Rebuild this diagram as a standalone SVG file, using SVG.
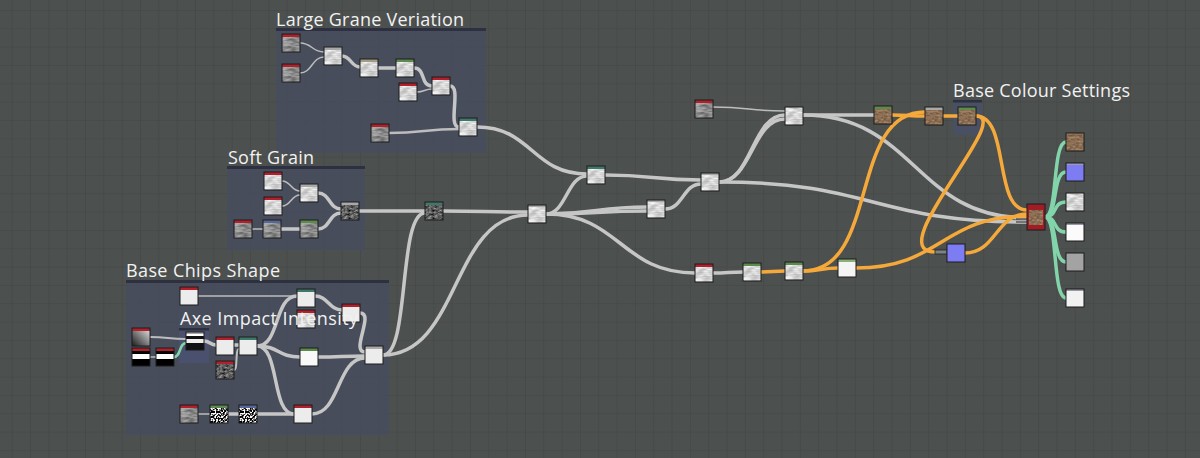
<svg xmlns="http://www.w3.org/2000/svg" width="1200" height="458" viewBox="0 0 1200 458">
<defs>
<pattern id="grid" x="11.7" y="10" width="18.33" height="18.33" patternUnits="userSpaceOnUse">
<rect width="18.33" height="18.33" fill="#4c504f"/>
<path d="M0 0H18.33M0 0V18.33" stroke="#434645" stroke-width="1.2" fill="none"/>
</pattern>
<filter id="nzL" x="0" y="0" width="1" height="1" color-interpolation-filters="sRGB"><feTurbulence type="fractalNoise" baseFrequency="0.12 0.4" numOctaves="2" seed="3"/><feColorMatrix type="matrix" values="0.45 0 0 0 0.6 0.45 0 0 0 0.6 0.45 0 0 0 0.6 0 0 0 0 1"/></filter>
<filter id="nzM" x="0" y="0" width="1" height="1" color-interpolation-filters="sRGB"><feTurbulence type="fractalNoise" baseFrequency="0.12 0.4" numOctaves="2" seed="7"/><feColorMatrix type="matrix" values="0.6 0 0 0 0.25 0.6 0 0 0 0.25 0.6 0 0 0 0.25 0 0 0 0 1"/></filter>
<filter id="nzD" x="0" y="0" width="1" height="1" color-interpolation-filters="sRGB"><feTurbulence type="fractalNoise" baseFrequency="0.3 0.5" numOctaves="2" seed="11"/><feColorMatrix type="matrix" values="0.9 0 0 0 -0.08 0.9 0 0 0 -0.08 0.9 0 0 0 -0.08 0 0 0 0 1"/></filter>
<filter id="nzB" x="0" y="0" width="1" height="1" color-interpolation-filters="sRGB"><feTurbulence type="fractalNoise" baseFrequency="0.3 0.5" numOctaves="2" seed="5"/><feColorMatrix type="matrix" values="0.4 0 0 0 0.35 0.35 0 0 0 0.26 0.3 0 0 0 0.18 0 0 0 0 1"/></filter>
<filter id="nzP" x="0" y="0" width="1" height="1" color-interpolation-filters="sRGB"><feTurbulence type="fractalNoise" baseFrequency="0.6" numOctaves="1" seed="9"/><feColorMatrix type="matrix" values="6 0 0 0 -2.6 6 0 0 0 -2.6 6 0 0 0 -2.6 0 0 0 0 1"/></filter>
<linearGradient id="grad" x1="0" y1="1" x2="1" y2="0"><stop offset="0" stop-color="#1a1a1a"/><stop offset="1" stop-color="#e8e8e8"/></linearGradient>
<linearGradient id="band" x1="0" y1="0" x2="0" y2="1"><stop offset="0" stop-color="#000"/><stop offset="0.35" stop-color="#000"/><stop offset="0.36" stop-color="#fff"/><stop offset="0.62" stop-color="#fff"/><stop offset="0.63" stop-color="#000"/><stop offset="1" stop-color="#000"/></linearGradient>
<linearGradient id="stripes" x1="0" y1="0" x2="0" y2="1"><stop offset="0" stop-color="#fff"/><stop offset="0.2" stop-color="#fff"/><stop offset="0.21" stop-color="#111"/><stop offset="0.4" stop-color="#111"/><stop offset="0.41" stop-color="#eee"/><stop offset="0.6" stop-color="#eee"/><stop offset="0.61" stop-color="#111"/><stop offset="1" stop-color="#111"/></linearGradient>
</defs>
<style>
.frame{fill:#474c5c;fill-opacity:0.9}
.fbar{fill:#2c3040}
.title{font-family:"Open Sans","Noto Sans","Liberation Sans",sans-serif;font-size:18px;fill:#f2f2f2}
.bd{fill:none;stroke:#1c1c1c;stroke-width:1}
.w{fill:#ececec}
.e{fill:none;stroke:#c6c6c6;stroke-width:3.5;stroke-linecap:round}
.t{fill:none;stroke:#bdbdbd;stroke-width:1.5}
.o{fill:none;stroke:#f6a93b;stroke-width:3.5;stroke-linecap:round}
.g{fill:none;stroke:#82d4ab;stroke-width:3.5;stroke-linecap:round}
.hr{fill:#b3202b}.hg{fill:#5d8a4d}.ht{fill:#3e786a}.hy{fill:#a9a9a9}.hb{fill:#56679a}.hk{fill:#a39c84}
</style>
<rect width="1200" height="458" fill="url(#grid)"/>

<g id="frames">
<rect class="frame" x="276" y="28" width="210" height="125"/>
<rect class="fbar" x="276" y="28" width="210" height="3"/>
<text class="title" x="276" y="26" textLength="188">Large Grane Veriation</text>
<rect class="frame" x="227" y="166" width="138" height="84"/>
<rect class="fbar" x="227" y="166" width="138" height="3"/>
<text class="title" x="228" y="164" textLength="86">Soft Grain</text>
<rect class="frame" x="126" y="280" width="263" height="155"/>
<rect class="fbar" x="126" y="280" width="263" height="3"/>
<text class="title" x="126" y="277" textLength="154">Base Chips Shape</text>
<rect class="frame" x="179" y="328" width="30" height="35" style="fill:#4a5270"/>
<rect class="fbar" x="179" y="328" width="30" height="2.5"/>
<rect class="frame" x="953" y="100" width="29" height="35" style="fill:#4a5066"/>
<rect class="fbar" x="953" y="100" width="29" height="2.5"/>
</g>

<g id="connectors">
<path class="t" d="M300 43C312 43 312 52 324 52"/>
<path class="t" d="M300 73C312 73 312 57 324 57"/>
<path class="e" d="M342 56C351 56 351 67 360 67"/>
<path class="e" d="M378 68H396"/>
<path class="e" d="M414 68C426 68 420 86 432 86"/>
<path class="t" d="M417 92C424 92 425 89 432 89"/>
<path class="e" d="M450 86C462 86 447 127 459 127"/>
<path class="t" d="M389 133C424 133 424 129 459 129" style="stroke-width:2.5"/>
<path class="e" d="M477 127C532 127 532 174 587 174"/>
<path class="t" d="M282 181C291 181 291 191 300 191"/>
<path class="t" d="M282 206C291 206 291 195 300 195"/>
<path class="t" d="M252 229H263"/>
<path class="e" d="M281 229H300"/>
<path class="e" d="M318 193C330 193 329 209 341 209"/>
<path class="e" d="M318 229C330 229 329 213 341 213"/>
<path class="e" d="M359 211H425"/>
<path class="e" d="M443 211C485 211 485 212 528 212"/>
<path class="t" d="M198 296H297"/>
<path class="e" d="M315 296C328 296 329 310 342 310"/>
<path class="e" d="M360 313C375 313 350 352 365 352"/>
<path class="t" d="M150 337C168 337 168 339 186 339" style="stroke-width:2"/>
<path class="t" d="M150 357H156"/>
<path class="g" d="M174 357C181 357 179 343 186 343" style="stroke-width:2.5"/>
<path class="e" d="M204 341C210 341 210 345 216 345"/>
<path class="e" d="M234 345H239"/>
<path class="t" d="M234 370C238 370 235 349 239 349" style="stroke-width:2"/>
<path class="e" d="M257 346C280 346 274 296 297 296"/>
<path class="e" d="M257 346C280 346 277 357 300 357"/>
<path class="e" d="M257 346C280 346 271 414 294 414"/>
<path class="e" d="M318 357C341 357 342 356 365 356"/>
<path class="t" d="M198 414H210"/>
<path class="e" d="M228 414H239"/>
<path class="e" d="M257 414H294"/>
<path class="e" d="M312 414C340 414 337 358 365 358"/>
<path class="e" d="M383 355C410 355 398 213 425 213"/>
<path class="e" d="M383 355C460 355 451 215 528 215"/>
<path class="e" d="M546 214C566 214 567 176 587 176"/>
<path class="e" d="M605 175C653 175 653 180 701 180"/>
<path class="e" d="M546 214C596 214 597 207 647 207"/>
<path class="e" d="M546 214C596 214 597 211 647 211"/>
<path class="e" d="M665 209C683 209 683 184 701 184"/>
<path class="e" d="M546 214C620 214 621 273 695 273"/>
<path class="e" d="M719 182C752 182 752 115 785 115"/>
<path class="e" d="M719 182C752 182 752 119 785 119"/>
<path class="e" d="M719 182C873 182 873 222 1027 222"/>
<path class="t" d="M713 107C749 107 749 111 785 111"/>
<path class="e" d="M803 115H874"/>
<path class="e" d="M803 115C915 115 915 218 1027 218"/>
<path class="e" d="M713 273C728 273 728 272 743 272"/>
<path class="o" d="M761 272C773 272 773 271 785 271"/>
<path class="o" d="M803 271C820 271 821 268 838 268"/>
<path class="o" d="M803 271C880 271 848 112 925 112"/>
<path class="o" d="M892 115C908 115 909 116 925 116"/>
<path class="o" d="M943 116H958"/>
<path class="o" d="M976 116C1010 116 993 210 1027 210"/>
<path class="o" d="M976 116C1015 116 880 252 935 252"/>
<path class="o" d="M965 253C996 253 996 214 1027 214"/>
<path class="o" d="M856 268C942 268 941 216 1027 216"/>
<rect x="935" y="250" width="12" height="4" fill="#7d8284" stroke="#222" stroke-width="0.8"/>
<path d="M1016 219H1027M1016 222H1027" stroke="#222" stroke-width="1.2"/>
<path class="g" d="M1045 217C1058 217 1052 142 1066 142"/>
<path class="g" d="M1045 217C1058 217 1052 172 1066 172"/>
<path class="g" d="M1045 217C1058 217 1052 202 1066 202"/>
<path class="g" d="M1045 217C1058 217 1052 232 1066 232"/>
<path class="g" d="M1045 217C1058 217 1052 262 1066 262"/>
<path class="g" d="M1045 217C1058 217 1052 298 1066 298"/>
</g>

<g id="L1" transform="translate(282 34)"><rect width="18" height="18" filter="url(#nzM)"/><rect class="hr" width="18" height="3"/><rect class="bd" width="18" height="18"/></g>
<g id="L2" transform="translate(282 64)"><rect width="18" height="18" filter="url(#nzM)"/><rect class="hr" width="18" height="3"/><rect class="bd" width="18" height="18"/></g>
<g id="L3" transform="translate(324 47)"><rect width="18" height="18" filter="url(#nzL)"/><rect class="hy" width="18" height="3"/><rect class="bd" width="18" height="18"/></g>
<g id="L4" transform="translate(360 59)"><rect width="18" height="18" filter="url(#nzL)"/><rect class="hk" width="18" height="3"/><rect class="bd" width="18" height="18"/></g>
<g id="L5" transform="translate(396 59)"><rect width="18" height="18" filter="url(#nzL)"/><rect class="hg" width="18" height="3"/><rect class="bd" width="18" height="18"/></g>
<g id="L6" transform="translate(432 77)"><rect width="18" height="18" filter="url(#nzL)"/><rect class="hr" width="18" height="3"/><rect class="bd" width="18" height="18"/></g>
<g id="L7" transform="translate(399 83)"><rect width="18" height="18" filter="url(#nzL)"/><rect class="hr" width="18" height="3"/><rect class="bd" width="18" height="18"/></g>
<g id="L8" transform="translate(459 118)"><rect width="18" height="18" filter="url(#nzL)"/><rect class="ht" width="18" height="3"/><rect class="bd" width="18" height="18"/></g>
<g id="L9" transform="translate(371 124)"><rect width="18" height="18" filter="url(#nzM)"/><rect class="hr" width="18" height="3"/><rect class="bd" width="18" height="18"/></g>

<g id="S1" transform="translate(264 172)"><rect width="18" height="18" filter="url(#nzL)"/><rect class="hr" width="18" height="3"/><rect class="bd" width="18" height="18"/></g>
<g id="S2" transform="translate(264 197)"><rect width="18" height="18" filter="url(#nzL)"/><rect class="hr" width="18" height="3"/><rect class="bd" width="18" height="18"/></g>
<g id="S3" transform="translate(234 220)"><rect width="18" height="18" filter="url(#nzM)"/><rect class="hr" width="18" height="3"/><rect class="bd" width="18" height="18"/></g>
<g id="S4" transform="translate(263 220)"><rect width="18" height="18" filter="url(#nzM)"/><rect class="hb" width="18" height="3"/><rect class="bd" width="18" height="18"/></g>
<g id="S5" transform="translate(300 184)"><rect width="18" height="18" filter="url(#nzL)"/><rect class="hy" width="18" height="3"/><rect class="bd" width="18" height="18"/></g>
<g id="S6" transform="translate(300 220)"><rect width="18" height="18" filter="url(#nzM)"/><rect class="hg" width="18" height="3"/><rect class="bd" width="18" height="18"/></g>
<g id="S7" transform="translate(341 202)"><rect width="18" height="18" filter="url(#nzD)"/><rect class="hy" width="18" height="3"/><rect class="bd" width="18" height="18"/></g>
<g id="S8" transform="translate(425 202)"><rect width="18" height="18" filter="url(#nzD)"/><rect class="ht" width="18" height="3"/><rect class="bd" width="18" height="18"/></g>

<g id="B1" transform="translate(180 287)"><rect class="w" width="18" height="18"/><rect class="hr" width="18" height="3"/><rect class="bd" width="18" height="18"/></g>
<g id="B2" transform="translate(297 289)"><rect class="w" width="18" height="18"/><rect class="ht" width="18" height="3"/><rect class="bd" width="18" height="18"/></g>
<g id="B3" transform="translate(297 310)"><rect width="18" height="18" filter="url(#nzL)"/><rect class="hr" width="18" height="3"/><rect class="bd" width="18" height="18"/></g>
<g id="B4" transform="translate(342 304)"><rect class="w" width="18" height="18"/><rect class="hr" width="18" height="3"/><rect class="bd" width="18" height="18"/></g>
<g id="B5" transform="translate(132 328)"><rect width="18" height="18" fill="url(#grad)"/><rect class="hr" width="18" height="3"/><rect class="bd" width="18" height="18"/></g>
<g id="B6" transform="translate(132 348)"><rect width="18" height="18" fill="url(#band)"/><rect class="hr" width="18" height="3"/><rect class="bd" width="18" height="18"/></g>
<g id="B7" transform="translate(156 348)"><rect width="18" height="18" fill="url(#band)"/><rect class="hr" width="18" height="3"/><rect class="bd" width="18" height="18"/></g>
<g id="B8" transform="translate(186 332)"><rect width="18" height="18" fill="url(#stripes)"/><rect class="hy" width="18" height="2"/><rect class="bd" width="18" height="18"/></g>
<g id="B9" transform="translate(216 337)"><rect class="w" width="18" height="18"/><rect class="hr" width="18" height="3"/><rect class="bd" width="18" height="18"/></g>
<g id="B10" transform="translate(239 337)"><rect class="w" width="18" height="18"/><rect class="ht" width="18" height="3"/><rect class="bd" width="18" height="18"/></g>
<g id="B11" transform="translate(216 361)"><rect width="18" height="18" filter="url(#nzD)"/><rect class="hr" width="18" height="3"/><rect class="bd" width="18" height="18"/></g>
<g id="B12" transform="translate(300 348)"><rect class="w" width="18" height="18" style="fill:#f8f8f8"/><rect class="hg" width="18" height="3"/><rect class="bd" width="18" height="18"/></g>
<g id="B13" transform="translate(365 346)"><rect class="w" width="18" height="18"/><rect class="hy" width="18" height="3"/><rect class="bd" width="18" height="18"/></g>
<g id="B14" transform="translate(180 405)"><rect width="18" height="18" filter="url(#nzM)"/><rect class="hr" width="18" height="3"/><rect class="bd" width="18" height="18"/></g>
<g id="B15" transform="translate(210 405)"><rect width="18" height="18" filter="url(#nzP)"/><rect class="hg" width="18" height="3"/><rect class="bd" width="18" height="18"/></g>
<g id="B16" transform="translate(239 405)"><rect width="18" height="18" filter="url(#nzP)"/><rect class="hb" width="18" height="3"/><rect class="bd" width="18" height="18"/></g>
<g id="B17" transform="translate(294 405)"><rect class="w" width="18" height="18"/><rect class="hr" width="18" height="3"/><rect class="bd" width="18" height="18"/></g>

<g id="M1" transform="translate(587 166)"><rect width="18" height="18" filter="url(#nzL)"/><rect class="ht" width="18" height="3"/><rect class="bd" width="18" height="18"/></g>
<g id="M2" transform="translate(528 205)"><rect width="18" height="18" filter="url(#nzL)"/><rect class="hy" width="18" height="2"/><rect class="bd" width="18" height="18"/></g>
<g id="M3" transform="translate(647 200)"><rect width="18" height="18" filter="url(#nzL)"/><rect class="hy" width="18" height="2"/><rect class="bd" width="18" height="18"/></g>
<g id="M4" transform="translate(701 173)"><rect width="18" height="18" filter="url(#nzL)"/><rect class="hy" width="18" height="2"/><rect class="bd" width="18" height="18"/></g>
<g id="M5" transform="translate(695 264)"><rect width="18" height="18" filter="url(#nzL)"/><rect class="hr" width="18" height="3"/><rect class="bd" width="18" height="18"/></g>
<g id="M6" transform="translate(743 263)"><rect width="18" height="18" filter="url(#nzL)"/><rect class="hg" width="18" height="3"/><rect class="bd" width="18" height="18"/></g>
<g id="M7" transform="translate(785 262)"><rect width="18" height="18" filter="url(#nzL)"/><rect class="hg" width="18" height="3"/><rect class="bd" width="18" height="18"/></g>
<g id="M8" transform="translate(838 259)"><rect class="w" width="18" height="18" style="fill:#f4f4f4"/><rect class="hg" width="18" height="3" style="fill:#8ab07a"/><rect class="bd" width="18" height="18"/></g>

<g id="R1" transform="translate(695 100)"><rect width="18" height="18" filter="url(#nzM)"/><rect class="hr" width="18" height="3"/><rect class="bd" width="18" height="18"/></g>
<g id="R2" transform="translate(785 107)"><rect width="18" height="18" filter="url(#nzL)"/><rect class="bd" width="18" height="18"/></g>
<g id="R3" transform="translate(874 106)"><rect width="18" height="18" filter="url(#nzB)"/><rect class="hg" width="18" height="3"/><rect class="bd" width="18" height="18"/></g>
<g id="R4" transform="translate(925 107)"><rect width="18" height="18" filter="url(#nzB)"/><rect class="hy" width="18" height="3"/><rect class="bd" width="18" height="18"/></g>
<g id="R5" transform="translate(958 107)"><rect width="18" height="18" filter="url(#nzB)"/><rect class="hg" width="18" height="3"/><rect class="bd" width="18" height="18"/></g>
<g id="BL" transform="translate(947 244)"><rect width="18" height="18" fill="#7d7cf3"/><rect class="bd" width="18" height="18"/></g>
<g id="BIG" transform="translate(1027 204)"><rect width="18" height="26" fill="#a11d25"/><rect x="2" y="6" width="14" height="15" filter="url(#nzB)"/><rect class="bd" width="18" height="26"/></g>

<g id="O1" transform="translate(1066 133)"><rect width="18" height="18" filter="url(#nzB)"/><rect class="bd" width="18" height="18"/></g>
<g id="O2" transform="translate(1066 163)"><rect width="18" height="18" fill="#7d7cf3"/><rect width="18" height="2" fill="#9a9ab0"/><rect class="bd" width="18" height="18"/></g>
<g id="O3" transform="translate(1066 193)"><rect width="18" height="18" filter="url(#nzL)"/><rect class="bd" width="18" height="18"/></g>
<g id="O4" transform="translate(1066 223)"><rect width="18" height="18" fill="#fbfbfb"/><rect width="18" height="2" fill="#9a9aa6"/><rect class="bd" width="18" height="18"/></g>
<g id="O5" transform="translate(1066 253)"><rect width="18" height="18" fill="#a3a3a3"/><rect class="bd" width="18" height="18"/></g>
<g id="O6" transform="translate(1066 289)"><rect width="18" height="18" fill="#f2f2f2"/><rect width="18" height="2" fill="#9a9aa6"/><rect class="bd" width="18" height="18"/></g>

<g id="labels-top">
<text class="title" x="180" y="325" textLength="178">Axe Impact Intensity</text>
<text class="title" x="953" y="97" textLength="177">Base Colour Settings</text>
</g>
</svg>
